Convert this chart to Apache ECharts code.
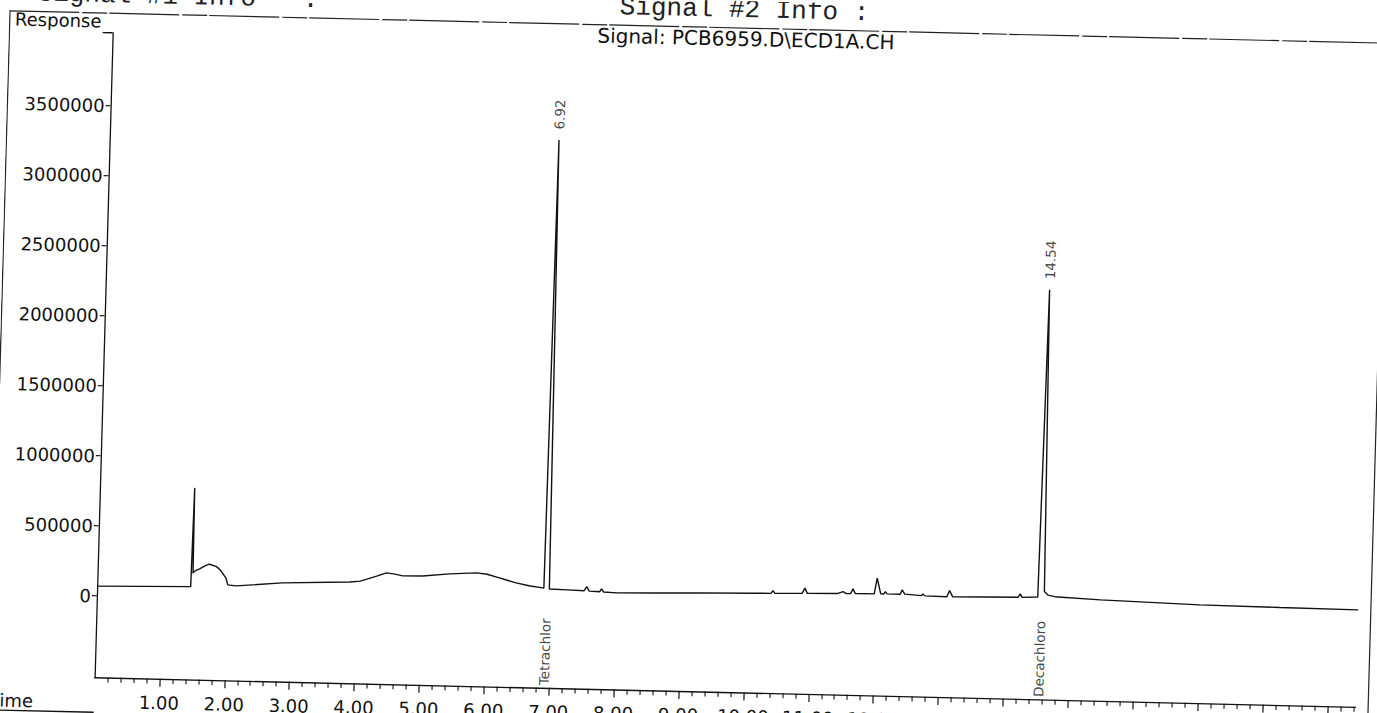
<!DOCTYPE html>
<html>
<head>
<meta charset="utf-8">
<script src="https://cdn.jsdelivr.net/npm/echarts@6/dist/echarts.min.js"></script>
<style>
html, body { margin: 0; padding: 0; background: #fff; overflow: hidden; width: 1377px; height: 713px; }
#scan { position: absolute; left: 0; top: 0; width: 1392px; height: 740px;
        transform-origin: 688.5px 356.5px; transform: matrix(1, 0.0235, -0.028, 1, 0, 0); }
</style>
</head>
<body>
<div id="scan"></div>
<script>
// ---- data (time in min, response) ----
const timeMin = [0.00, 1.44, 1.45, 1.46, 1.47, 1.50, 1.57, 1.65, 1.72, 1.83, 1.90, 1.98, 2.01, 2.14, 2.85, 3.89,
  4.05, 4.30, 4.45, 4.58, 4.70, 5.01, 5.42, 5.84, 6.00, 6.19, 6.30, 6.45, 6.65, 6.86, 6.88, 6.92, 6.965, 7.24,
  7.50, 7.54, 7.58, 7.74, 7.77, 7.80, 8.01, 8.52,
  9.29, 10.06, 10.38, 10.41, 10.44, 10.86, 10.90, 10.94, 11.40, 11.49, 11.54, 11.61, 11.64, 11.68, 11.97, 12.01,
  12.07, 12.12, 12.14, 12.17, 12.37, 12.40, 12.44, 12.70, 12.72, 12.75, 13.09, 13.13, 13.18, 14.19, 14.22, 14.25,
  14.49, 14.54, 14.59, 14.65, 14.75, 15.46, 16.99, 18.22, 19.43];
const response = [70000, 82000, 82000, 787000, 180000, 195000, 210000, 232000, 245000, 229000, 200000, 148000, 101000, 95000, 124000, 142000,
  150000, 188000, 213000, 205000, 194000, 197000, 216000, 228000, 220000, 196000, 182000, 163000, 145000, 132000, 130000, 3330000, 125000, 122000,
  118000, 148000, 117000, 114000, 135000, 113000, 109000, 114000,
  123000, 129000, 131000, 151000, 132000, 136000, 174000, 137000, 141000, 156000, 142000, 143000, 177000, 144000, 145000, 257000,
  146000, 146000, 163000, 147000, 147000, 178000, 148000, 140000, 153000, 139000, 136000, 181000, 137000, 145000, 169000, 145000,
  150000, 2344000, 190000, 165000, 155000, 140000, 121000, 116000, 112000];

const peakTimes = [6.92, 14.54];
const peakHeights = [3330000, 2344000];
const compoundNames = ['Tetrachlor', 'Decachloro'];

const yTickValues = [0, 500000, 1000000, 1500000, 2000000, 2500000, 3000000, 3500000];
const xTickValues = [1, 2, 3, 4, 5, 6, 7, 8, 9, 10, 11, 12, 13, 14, 15, 16, 17, 18, 19];
const xMin = 0, xMax = 19.43;
const yMin = -580000, yMax = 4020000;

const headerLeft = 'Signal #1 Info   :';
const headerRight = 'Signal #2 Info :';
const signalTitle = 'Signal: PCB6959.D\\ECD1A.CH';
const yAxisName = 'Response';
const xAxisName = 'Time';

// minor tick positions every 0.2 min
const minorTickValues = [];
for (let i = 1; i * 0.2 <= xMax + 1e-9; i++) { if (i % 5 !== 0) minorTickValues.push(+(i * 0.2).toFixed(1)); }

const INK = '#111';
const FONT = 'DejaVu Sans';

const chart = echarts.init(document.getElementById('scan'), null, { renderer: 'svg' });
chart.setOption({
  animation: false,
  backgroundColor: '#fff',
  grid: { left: 104, right: 27.2, top: 46.5, bottom: 49.1, containLabel: false },
  xAxis: [{
    type: 'value', min: xMin, max: xMax, position: 'bottom',
    axisLine: { show: true, onZero: false, lineStyle: { color: INK, width: 1.3 } },
    axisTick: { show: true, customValues: xTickValues, length: 8, lineStyle: { color: INK, width: 1.2 } },
    axisLabel: { customValues: xTickValues, formatter: v => v.toFixed(2), color: INK, fontFamily: FONT, fontSize: 18, margin: 15 },
    splitLine: { show: false }
  }, {
    type: 'value', min: xMin, max: xMax, position: 'bottom', gridIndex: 0,
    axisLine: { show: false, onZero: false },
    axisTick: { show: true, customValues: minorTickValues, length: 5, lineStyle: { color: INK, width: 1.1 } },
    axisLabel: { show: false },
    splitLine: { show: false }
  }],
  yAxis: {
    type: 'value', min: yMin, max: yMax,
    axisLine: { show: true, onZero: false, lineStyle: { color: INK, width: 1.3 } },
    axisTick: { show: true, customValues: yTickValues, length: 5, lineStyle: { color: INK, width: 1.2 } },
    axisLabel: { customValues: yTickValues, formatter: v => String(v), color: INK, fontFamily: FONT, fontSize: 18, margin: 6 },
    splitLine: { show: false }
  },
  series: [{
    type: 'line', xAxisIndex: 0, yAxisIndex: 0,
    data: timeMin.map((t, i) => [t, response[i]]),
    symbol: 'none', showSymbol: false,
    lineStyle: { color: INK, width: 1.4 }
  }, {
    type: 'scatter', xAxisIndex: 0, yAxisIndex: 0,
    data: peakTimes.map((t, i) => [t, peakHeights[i]]),
    symbolSize: 1, itemStyle: { color: 'rgba(0,0,0,0)' },
    label: { show: true, formatter: p => p.value[0].toFixed(2), position: 'top', distance: 10, rotate: 90,
             align: 'left', verticalAlign: 'middle', color: INK, fontFamily: FONT, fontSize: 13.5 }
  }, {
    type: 'scatter', xAxisIndex: 0, yAxisIndex: 0,
    data: peakTimes.map((t, i) => ({ value: [t, yMin], name: compoundNames[i] })),
    symbolSize: 1, itemStyle: { color: 'rgba(0,0,0,0)' },
    label: { show: true, formatter: '{b}', position: 'top', distance: 2, rotate: 90,
             align: 'left', verticalAlign: 'middle', color: INK, fontFamily: FONT, fontSize: 13.5 }
  }]
});

const topLeft = chart.convertToPixel({ xAxisIndex: 0, yAxisIndex: 0 }, [xMin, yMax]);
const axisX = topLeft[0], axisTop = topLeft[1];
chart.setOption({
  graphic: [
    { type: 'line', shape: { x1: 0, y1: 27, x2: 1392, y2: 27 }, style: { stroke: '#222', lineWidth: 1.2, lineDash: [70, 3, 25, 2] }, silent: true },
    { type: 'line', shape: { x1: 0.8, y1: 27, x2: 0.8, y2: 400 }, style: { stroke: '#222', lineWidth: 1.2 }, silent: true },
    { type: 'line', shape: { x1: 1377.5, y1: 27, x2: 1377.5, y2: 740 }, style: { stroke: '#222', lineWidth: 1.2 }, silent: true },
    { type: 'line', shape: { x1: axisX - 10, y1: axisTop, x2: axisX, y2: axisTop }, style: { stroke: INK, lineWidth: 1.3 }, silent: true },
    { type: 'line', shape: { x1: 0, y1: 726, x2: axisX, y2: 726 }, style: { stroke: INK, lineWidth: 1.3 }, silent: true },
    { type: 'text', x: 6, y: 35, style: { text: yAxisName, fill: INK, font: '18px "DejaVu Sans"', align: 'left', verticalAlign: 'middle' }, silent: true },
    { type: 'text', x: 43, y: 716, style: { text: xAxisName, fill: INK, font: '18px "DejaVu Sans"', align: 'right', verticalAlign: 'middle' }, silent: true },
    { type: 'text', x: 737, y: 37.8, style: { text: signalTitle, fill: INK, font: '20px "DejaVu Sans"', align: 'center', verticalAlign: 'middle' }, silent: true },
    { type: 'text', x: 28, y: 9, style: { text: headerLeft, fill: '#222', font: '26px "Liberation Mono"', align: 'left', verticalAlign: 'middle' }, silent: true },
    { type: 'text', x: 610, y: 9, style: { text: headerRight, fill: '#222', font: '26px "Liberation Mono"', align: 'left', verticalAlign: 'middle' }, silent: true }
  ]
});
</script>
</body>
</html>
